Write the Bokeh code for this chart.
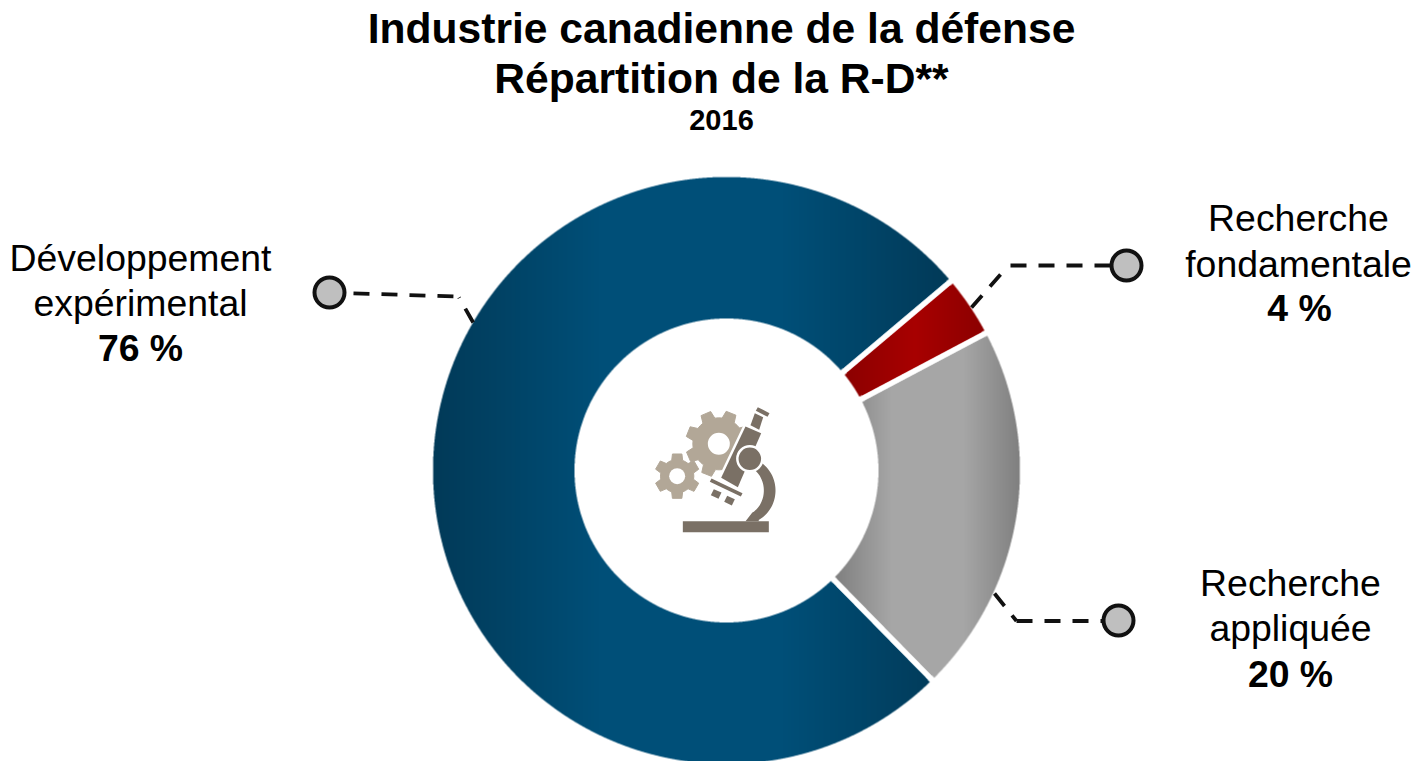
import numpy as np
from bokeh.plotting import figure
from bokeh.models import Range1d
from bokeh.core.properties import value
from bokeh.embed import file_html
from bokeh.resources import INLINE

# ---- data ----
categories = ["Développement expérimental", "Recherche appliquée", "Recherche fondamentale"]
shares = [76.2, 20.4, 3.4]
share_labels = ["76 %", "20 %", "4 %"]
title_lines = ["Industrie canadienne de la défense", "Répartition de la R-D**"]
year_label = "2016"

# ---- styles ----
W, H = 1416, 761
CX, CY, R_OUT, R_IN = 726, 470, 293.5, 152
START_DEG = 40.15
GAP = 6.0
edge_cols = ["#023a58", "#808080", "#8c0000"]
mid_cols = ["#004f78", "#a6a6a6", "#a80000"]
plateau = [0.32, 0.30, 0.50]
FONT = "Liberation Sans"
GEAR, SCOPE = "#b2a797", "#7a7065"

Y = lambda py: H - np.asarray(py, dtype=float)

p = figure(width=W, height=H, x_range=Range1d(0, W), y_range=Range1d(0, H),
           output_backend="svg", toolbar_location=None, min_border=0,
           outline_line_color=None)
p.axis.visible = False
p.grid.visible = False
p.background_fill_color = "white"
p.border_fill_color = "white"

fr = np.array(shares) / sum(shares)
ends, starts = [], []
a = START_DEG
for f in fr:
    starts.append(a)
    a += f * 360
    ends.append(a)

def hex_rgb(h):
    return np.array([int(h[i:i + 2], 16) for i in (1, 3, 5)], dtype=float)

p.annular_wedge(x=[CX] * 3, y=[Y(CY)] * 3, inner_radius=R_IN, outer_radius=R_OUT,
                start_angle=np.radians(starts), end_angle=np.radians(ends),
                fill_color=mid_cols, line_color="white", line_width=GAP)

SS = 3
xs = (np.arange(W * SS) + 0.5) / SS
ys = (np.arange(H * SS) + 0.5) / SS
XX, YY = np.meshgrid(xs, ys)
dx, dy = XX - CX, YY - (H - CY)
rr = np.hypot(dx, dy)
th = np.degrees(np.arctan2(dy, dx))
ring = (rr <= R_OUT) & (rr >= R_IN)
rgba = np.zeros((H, W, 4), dtype=np.uint8)
for i in range(3):
    s, e = starts[i], ends[i]
    rel = (th - s) % 360
    m = ring & (rel <= (e - s))
    for b in (np.radians(s), np.radians(e)):
        dist = np.abs(dx * np.sin(b) - dy * np.cos(b))
        along = dx * np.cos(b) + dy * np.sin(b)
        m &= ~((dist < GAP / 2) & (along > 0))
    cov = m.reshape(H, SS, W, SS).mean(axis=(1, 3))
    cols = np.nonzero(m.any(axis=0))[0]
    x0, x1 = xs[cols[0]], xs[cols[-1]]
    t = (np.arange(W) + 0.5 - x0) / (x1 - x0)
    u = np.clip(np.minimum(t, 1 - t) / plateau[i], 0, 1)
    c0, c1 = hex_rgb(edge_cols[i]), hex_rgb(mid_cols[i])
    line = c0[None, :] + (c1 - c0)[None, :] * u[:, None]
    on = cov > 0
    for k in range(3):
        ch = rgba[:, :, k]
        ch[on] = np.broadcast_to(line[:, k], (H, W))[on].astype(np.uint8)
    rgba[:, :, 3] = np.maximum(rgba[:, :, 3], (cov * 255).astype(np.uint8))
packed = rgba.view(dtype=np.uint32).reshape(H, W)
p.image_rgba(image=[packed], x=0, y=0, dw=W, dh=H)

# ---- leader lines: each leg keeps its own dash phase ----
leader_legs = [
    ([472.7, 458.5], [322, 297]),
    ([325, 456], [292, 296]),
    ([994, 1016], [593, 620.5]),
    ([1016, 1118], [620.5, 620.5]),
    ([971, 1007], [307, 266]),
    ([1010, 1126], [265, 265]),
]
marker_x, marker_y = [329, 1118, 1126], [292, 620, 265]
for lx, ly in leader_legs:
    p.line(lx, Y(ly), line_color="#111111", line_width=3.8, line_dash="16 12")
p.scatter(marker_x, Y(marker_y), size=30, fill_color="#bfbfbf",
          line_color="#111111", line_width=4)

# ---- icon ----
ZX = lambda v: 630 + np.asarray(v, dtype=float) / 3
ZY = lambda v: Y(390 + np.asarray(v, dtype=float) / 3)

def gear(cx, cy, ro, rr_, n, rot):
    px, py = [], []
    step = 2 * np.pi / n
    for k in range(n):
        c = rot + k * step
        for off, r in ((-0.5, rr_), (-0.32, rr_), (-0.2, ro), (0.2, ro), (0.32, rr_)):
            px.append(cx + r * np.cos(c + off * step))
            py.append(cy + r * np.sin(c + off * step))
    return px, py

for (gx, gy, ro, ri, n, rot, hole) in [(265, 160, 100, 78, 8, 0.38, 33), (140, 257, 68, 50, 6, -1.57, 24)]:
    px, py = gear(gx, gy, ro, ri, n, rot)
    p.patch(ZX(px), ZY(py), fill_color=GEAR, line_color=GEAR, line_width=1)
    p.circle(x=[ZX(gx)], y=[ZY(gy)], radius=hole / 3, fill_color="white", line_color=None)

def zpoly(pts, fill=SCOPE, line="white", lw=0):
    pts = np.array(pts, dtype=float)
    p.patch(ZX(pts[:, 0]), ZY(pts[:, 1]), fill_color=fill,
            line_color=line if lw else None, line_width=lw)

zpoly([[345, 108], [392, 128], [322, 290], [272, 262]], fill="white", line="white", lw=5)
ang = np.radians(np.linspace(-62, 62, 40))
outer = np.c_[340 + 95 * np.cos(ang), 300 + 100 * np.sin(ang)]
inner = np.c_[335 + 65 * np.cos(ang[::-1]), 300 + 75 * np.sin(ang[::-1])]
zpoly(np.r_[outer, [[385, 392], [345, 392]], inner])
zpoly([[345, 108], [392, 128], [322, 290], [272, 262]])
zpoly([[373, 68], [398, 80], [386, 118], [360, 104]])
zpoly([[382, 50], [417, 68], [411, 79], [376, 61]])
zpoly([[243, 264], [336, 308], [331, 318], [238, 274]])
zpoly([[250, 296], [273, 306], [264, 325], [241, 314]])
zpoly([[290, 316], [313, 326], [304, 345], [281, 334]])
p.circle(x=[ZX(358)], y=[ZY(205)], radius=12.5, fill_color=SCOPE, line_color="white", line_width=2.5)
zpoly([[157, 392], [415, 392], [415, 425], [157, 425]])

# ---- texts ----
def txt(x, py, s, size, bold=False):
    p.text(x=[x], y=Y([py]), text=[s], text_font=value(FONT),
           text_font_size=f"{size}px", text_font_style="bold" if bold else "normal",
           text_align="center", text_baseline="alphabetic", text_color="black")

txt(721, 27, title_lines[0], 42.6, True)
txt(721, 77, title_lines[1], 42.6, True)
txt(721, 119, year_label, 29, True)

txt(140, 257, "Développement", 37.4)
txt(140, 302, "expérimental", 37.4)
txt(140, 347, share_labels[0], 37.4, True)

txt(1290, 582, "Recherche", 37.4)
txt(1290, 627, "appliquée", 37.4)
txt(1290, 673, share_labels[1], 37.4, True)

txt(1298, 217, "Recherche", 37.4)
txt(1298, 263, "fondamentale", 37.4)
txt(1299, 307, share_labels[2], 37.4, True)

open("out.html", "w").write(file_html(p, INLINE))
